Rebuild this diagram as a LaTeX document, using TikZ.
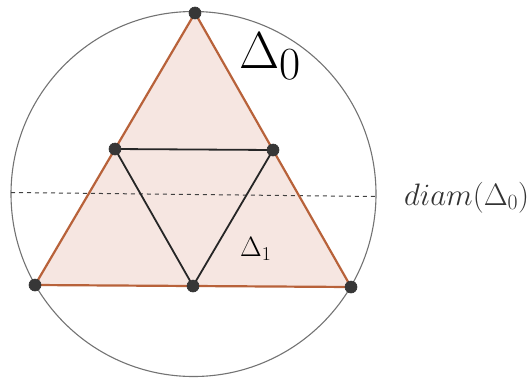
\RequirePackage{fix-cm}
\documentclass[tikz,border=0pt]{standalone}
\definecolor{fillpink}{RGB}{246,230,225}
\definecolor{edgebrown}{RGB}{184,98,58}
\definecolor{dotgray}{RGB}{55,55,55}
\definecolor{circgray}{RGB}{115,115,115}
\begin{document}
\begin{tikzpicture}[x=1pt,y=-1pt,
  outeredge/.style={draw=edgebrown,line width=2.2pt,line join=round},
  inneredge/.style={draw=black!85,line width=1.8pt,line join=round},
  vertexdot/.style={circle,fill=dotgray,draw=black!80,line width=0.6pt,minimum size=12pt,inner sep=0pt},
  circleline/.style={draw=circgray,line width=1.1pt},
  diamline/.style={draw=black!75,line width=1pt,dash pattern=on 4pt off 4pt},
  lbl/.style={inner sep=0pt,anchor=base west}]
\useasboundingbox (0,0) rectangle (532,381);
% vertices
\coordinate (T) at (195,13);
\coordinate (BL) at (35,285);
\coordinate (BR) at (351,287);
\coordinate (ML) at (115,149);
\coordinate (MR) at (273,150);
\coordinate (MB) at (193,286);
\coordinate (C) at (193.5,194);
% circle
\draw[circleline] (C) circle[radius=182.5];
% big triangle
\fill[fillpink] (T) -- (BR) -- (BL) -- cycle;
% dashed diameter
\coordinate (DL) at (11,192.5);
\coordinate (DR) at (376,196.5);
\draw[diamline] (DL) -- (DR);
% inner triangle
\draw[inneredge] (ML) -- (MR) -- (MB) -- cycle;
\draw[outeredge] (T) -- (BR) -- (BL) -- cycle;
% dots
\foreach \p in {T,BL,BR,ML,MR,MB} \node[vertexdot] at (\p) {};
% labels
\node[lbl] (d0) at (239,68) {\fontsize{52}{58}\selectfont$\Delta$\raisebox{-11pt}{\fontsize{46}{50}\selectfont 0}};
\node[lbl] (d1) at (240,256) {\fontsize{28}{32}\selectfont$\Delta_1$};
\node[lbl,text=black!80] (dm) at (404,205) {\fontsize{31}{35}\selectfont$diam(\Delta_0)$};
\end{tikzpicture}
\end{document}
